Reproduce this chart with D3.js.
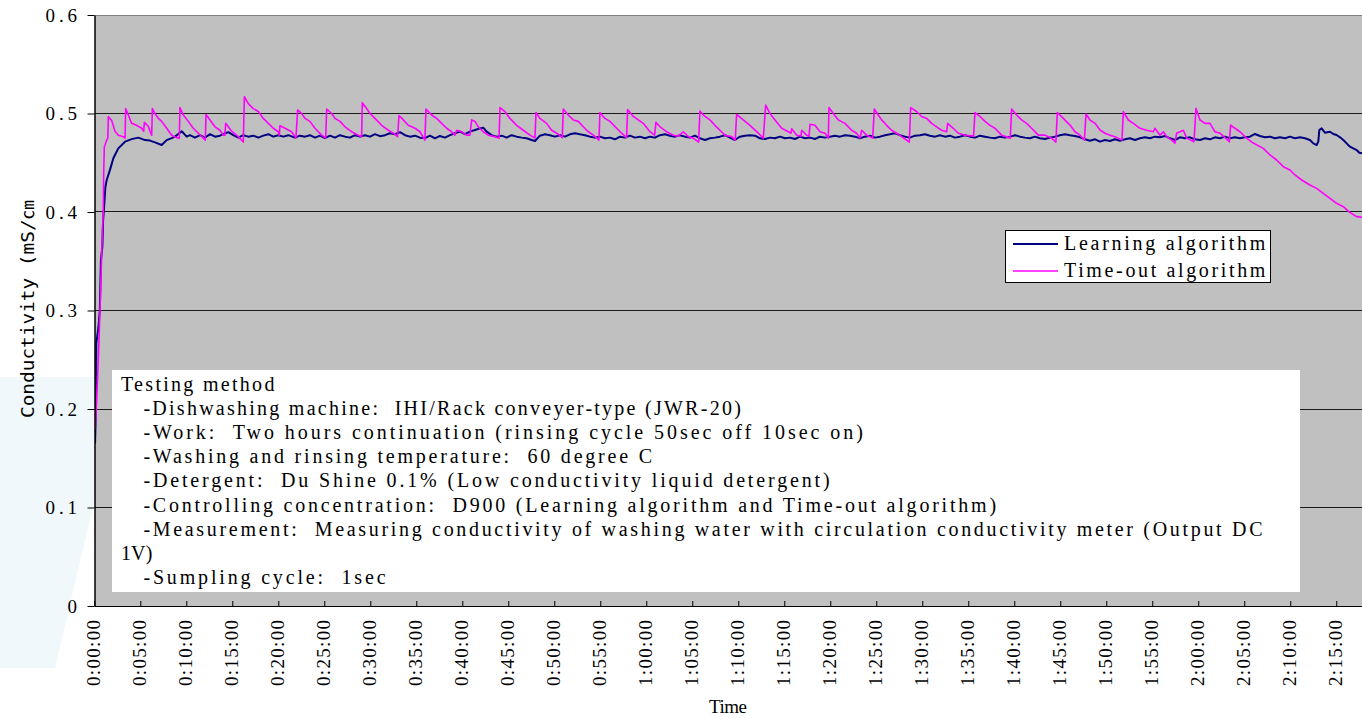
<!DOCTYPE html>
<html>
<head>
<meta charset="utf-8">
<script src="https://cdnjs.cloudflare.com/ajax/libs/d3/7.8.5/d3.min.js"></script>
<style>
  html, body { margin: 0; padding: 0; background: #fff; }
  svg { display: block; }
  .mono { font-family: "Liberation Serif", "Noto Sans CJK JP", serif; fill: #000; white-space: pre; }
</style>
</head>
<body>
<svg id="chart" width="1362" height="718"></svg>
<script>
//Axis values and labels
var yTicks = [0, 0.1, 0.2, 0.3, 0.4, 0.5, 0.6];
var yTickLabels = ["0", "0.1", "0.2", "0.3", "0.4", "0.5", "0.6"];
var xTickMinutes = [0, 5, 10, 15, 20, 25, 30, 35, 40, 45, 50, 55, 60, 65, 70, 75, 80, 85, 90, 95, 100, 105, 110, 115, 120, 125, 130, 135];
var xTickLabels = ["0:00:00", "0:05:00", "0:10:00", "0:15:00", "0:20:00", "0:25:00", "0:30:00", "0:35:00", "0:40:00",
  "0:45:00", "0:50:00", "0:55:00", "1:00:00", "1:05:00", "1:10:00", "1:15:00", "1:20:00", "1:25:00", "1:30:00",
  "1:35:00", "1:40:00", "1:45:00", "1:50:00", "1:55:00", "2:00:00", "2:05:00", "2:10:00", "2:15:00"];
var seriesNames = ["Learning algorithm", "Time-out algorithm"];
var yTitle = "Conductivity (mS/㎝";
var xTitle = "Time";

//Series: [minutes, mS/cm]
var learningAlgorithm = [
  [0.08, 0.165], [0.15, 0.19], [0.22, 0.267], [0.45, 0.283], [0.6, 0.3], [0.72, 0.351], [0.88, 0.365], [0.95, 0.39],
  [1.1, 0.41], [1.2, 0.425], [1.35, 0.4325], [1.71, 0.443], [2.07, 0.4545], [2.61, 0.4646], [3.34, 0.4714], [4.06, 0.474],
  [4.79, 0.4755], [5.51, 0.473], [6.05, 0.4725], [6.6, 0.4707], [7.32, 0.468], [7.87, 0.473], [8.41, 0.475], [8.77, 0.4765],
  [9.5, 0.482], [10.04, 0.4765], [10.4, 0.478], [10.94, 0.4755], [11.49, 0.478], [12.03, 0.4755], [12.58, 0.479],
  [13.12, 0.4765], [13.66, 0.4775], [14.21, 0.48], [14.57, 0.481], [15.11, 0.478], [15.65, 0.4755], [16.2, 0.478],
  [16.74, 0.4765], [17.28, 0.4775], [17.83, 0.4755], [18.37, 0.4775], [18.92, 0.479], [19.46, 0.4765], [20.0, 0.478],
  [20.55, 0.4765], [21.09, 0.478], [21.81, 0.4755], [22.36, 0.4775], [22.9, 0.4765], [23.44, 0.478], [23.99, 0.4755],
  [24.53, 0.4775], [25.07, 0.475], [25.62, 0.4775], [26.16, 0.4755], [26.7, 0.478], [27.25, 0.4765], [27.79, 0.4755],
  [28.34, 0.478], [28.88, 0.4765], [29.42, 0.478], [29.97, 0.4765], [30.51, 0.479], [31.05, 0.477], [31.6, 0.478],
  [32.14, 0.48], [32.68, 0.479], [33.23, 0.481], [33.77, 0.478], [34.31, 0.4765], [34.86, 0.4775], [35.4, 0.4755],
  [35.94, 0.475], [36.49, 0.4775], [37.03, 0.4748], [37.57, 0.4772], [38.12, 0.4755], [38.66, 0.478], [39.2, 0.48],
  [39.75, 0.4816], [40.29, 0.479], [40.83, 0.4816], [41.38, 0.4832], [41.92, 0.4849], [42.28, 0.4856], [42.65, 0.4816],
  [43.19, 0.478], [43.73, 0.4765], [44.28, 0.4775], [44.82, 0.4755], [45.36, 0.478], [45.91, 0.4765], [46.45, 0.4755],
  [46.99, 0.4748], [47.54, 0.4731], [47.9, 0.4721], [48.44, 0.4775], [48.99, 0.4789], [49.53, 0.478], [50.07, 0.4765],
  [50.62, 0.478], [51.16, 0.4765], [51.7, 0.4789], [52.25, 0.48], [52.79, 0.4789], [53.33, 0.478], [53.88, 0.4765],
  [54.42, 0.4755], [54.96, 0.4765], [55.51, 0.4748], [56.05, 0.4755], [56.6, 0.4738], [57.14, 0.4765], [57.68, 0.4755],
  [58.22, 0.4775], [58.77, 0.4755], [59.31, 0.4765], [59.86, 0.4748], [60.4, 0.4765], [60.94, 0.4755], [61.49, 0.478],
  [62.03, 0.4789], [62.57, 0.4775], [63.12, 0.4765], [63.66, 0.478], [64.2, 0.4765], [64.75, 0.4755], [65.29, 0.4775],
  [65.83, 0.4748], [66.38, 0.4731], [66.92, 0.4748], [67.46, 0.4755], [68.01, 0.4765], [68.55, 0.478], [69.09, 0.4755],
  [69.64, 0.4731], [70.18, 0.4765], [70.72, 0.4775], [71.27, 0.478], [71.82, 0.4775], [72.36, 0.4748], [72.9, 0.4741],
  [73.45, 0.4755], [73.99, 0.4748], [74.53, 0.4765], [75.08, 0.4748], [75.62, 0.4755], [76.16, 0.4741], [76.71, 0.4765],
  [77.25, 0.4748], [77.8, 0.4755], [78.34, 0.4741], [78.88, 0.4765], [79.43, 0.4755], [79.97, 0.4765], [80.51, 0.4775],
  [81.06, 0.4765], [81.6, 0.478], [82.14, 0.4775], [82.69, 0.4765], [83.23, 0.4748], [83.77, 0.4765], [84.32, 0.4775],
  [84.86, 0.4755], [85.4, 0.4765], [85.95, 0.478], [86.49, 0.4789], [87.03, 0.48], [87.58, 0.478], [88.12, 0.4765],
  [88.66, 0.4755], [89.21, 0.4775], [89.75, 0.478], [90.29, 0.4789], [90.84, 0.4775], [91.38, 0.4765], [91.92, 0.478],
  [92.47, 0.4765], [93.01, 0.4775], [93.56, 0.4755], [94.1, 0.4765], [94.64, 0.478], [95.19, 0.4765], [95.73, 0.4755],
  [96.27, 0.4775], [96.82, 0.4765], [97.36, 0.4755], [97.9, 0.4748], [98.45, 0.4765], [98.99, 0.4755], [99.53, 0.4765],
  [100.08, 0.478], [100.62, 0.4765], [101.16, 0.4755], [101.71, 0.4748], [102.25, 0.4765], [102.79, 0.4748],
  [103.34, 0.4741], [103.88, 0.4755], [104.42, 0.4765], [104.97, 0.478], [105.51, 0.4789], [106.05, 0.478],
  [106.6, 0.4772], [107.15, 0.4758], [107.69, 0.4738], [108.23, 0.4724], [108.78, 0.4738], [109.32, 0.4714],
  [109.86, 0.4731], [110.41, 0.4721], [110.95, 0.4738], [111.49, 0.4724], [112.04, 0.4738], [112.58, 0.4748],
  [113.12, 0.4731], [113.67, 0.4748], [114.21, 0.4758], [114.75, 0.4748], [115.3, 0.4765], [115.84, 0.4758],
  [116.38, 0.4772], [116.93, 0.4748], [117.47, 0.4731], [118.01, 0.4758], [118.56, 0.4748], [119.1, 0.4758],
  [119.64, 0.4738], [120.19, 0.4731], [120.73, 0.4748], [121.27, 0.4738], [121.82, 0.4758], [122.36, 0.4748],
  [122.91, 0.4765], [123.45, 0.4748], [123.99, 0.4758], [124.53, 0.4748], [125.08, 0.4758], [125.62, 0.4765],
  [126.17, 0.4792], [126.71, 0.4772], [127.25, 0.4758], [127.8, 0.4765], [128.34, 0.4748], [128.88, 0.4758],
  [129.43, 0.4748], [129.97, 0.4765], [130.51, 0.4748], [131.06, 0.4758], [131.6, 0.4748], [132.14, 0.4731],
  [132.51, 0.4697], [132.87, 0.468], [133.05, 0.4714], [133.16, 0.4832], [133.41, 0.4849], [133.77, 0.4805],
  [134.32, 0.4815], [134.68, 0.4792], [135.04, 0.4782], [135.41, 0.4758], [135.77, 0.4731], [136.13, 0.4697],
  [136.49, 0.4663], [136.85, 0.4646], [137.22, 0.4629], [137.51, 0.4602], [137.8, 0.4596]
];

var timeoutAlgorithm = [
  [0.08, 0.179], [0.18, 0.196], [0.26, 0.209], [0.43, 0.25], [0.62, 0.3], [0.76, 0.344], [0.87, 0.378], [0.98, 0.402],
  [1.02, 0.44], [1.09, 0.466], [1.35, 0.473], [1.47, 0.475], [1.525, 0.497], [1.89, 0.493], [2.25, 0.482], [2.61, 0.478],
  [3.16, 0.4765], [3.34, 0.475], [3.41, 0.505], [3.7, 0.4985], [4.06, 0.49], [4.6, 0.488], [5.15, 0.485], [5.37, 0.482],
  [5.44, 0.491], [5.87, 0.487], [6.05, 0.482], [6.24, 0.478], [6.31, 0.505], [6.6, 0.5], [6.96, 0.495], [7.32, 0.492],
  [7.87, 0.485], [8.41, 0.478], [8.95, 0.4755], [9.24, 0.475], [9.31, 0.506], [9.68, 0.4985], [10.22, 0.492],
  [10.76, 0.485], [11.31, 0.48], [11.85, 0.475], [12.07, 0.473], [12.14, 0.499], [12.58, 0.4935], [13.12, 0.4865],
  [13.66, 0.483], [14.02, 0.478], [14.2, 0.478], [14.28, 0.49], [14.93, 0.482], [15.65, 0.4765], [16.2, 0.471],
  [16.31, 0.517], [16.74, 0.51], [17.28, 0.505], [17.83, 0.502], [18.37, 0.495], [18.92, 0.49], [19.46, 0.485],
  [20.0, 0.4815], [20.11, 0.478], [20.18, 0.4875], [20.73, 0.485], [21.45, 0.4815], [21.92, 0.475], [22.1, 0.5036],
  [22.54, 0.5], [22.9, 0.495], [23.44, 0.492], [23.99, 0.485], [24.71, 0.478], [25.15, 0.475], [25.26, 0.5046],
  [25.8, 0.5], [26.16, 0.495], [26.71, 0.492], [27.25, 0.4865], [27.97, 0.4815], [28.7, 0.478], [29.06, 0.4765],
  [29.13, 0.511], [29.6, 0.505], [29.97, 0.5], [30.51, 0.495], [31.23, 0.488], [31.96, 0.483], [32.5, 0.48],
  [32.97, 0.4765], [33.12, 0.498], [33.59, 0.4935], [34.13, 0.488], [34.86, 0.485], [35.4, 0.4815], [35.94, 0.473],
  [36.05, 0.5046], [36.67, 0.4985], [37.21, 0.495], [37.76, 0.49], [38.3, 0.485], [38.84, 0.4815], [39.2, 0.478],
  [39.39, 0.483], [39.93, 0.4815], [40.47, 0.478], [40.83, 0.478], [41.02, 0.4935], [41.38, 0.492], [41.74, 0.4865],
  [42.28, 0.4815], [42.83, 0.478], [43.55, 0.4765], [43.99, 0.475], [44.1, 0.506], [44.64, 0.502], [45.18, 0.495],
  [45.91, 0.488], [46.63, 0.483], [47.36, 0.478], [47.9, 0.475], [48.01, 0.501], [48.44, 0.495], [49.17, 0.49],
  [49.71, 0.483], [50.26, 0.48], [50.87, 0.4755], [50.98, 0.5046], [51.52, 0.4985], [52.07, 0.4935], [52.61, 0.492],
  [53.15, 0.4865], [53.7, 0.4815], [54.24, 0.478], [54.86, 0.473], [54.96, 0.501], [55.51, 0.495], [56.05, 0.492],
  [56.78, 0.485], [57.32, 0.48], [57.86, 0.4755], [57.97, 0.504], [58.59, 0.497], [59.13, 0.4935], [59.67, 0.49],
  [60.4, 0.4815], [60.91, 0.478], [61.05, 0.491], [61.49, 0.4865], [62.21, 0.4815], [62.93, 0.478], [63.48, 0.477],
  [64.02, 0.4815], [64.57, 0.4765], [65.11, 0.475], [65.69, 0.471], [65.83, 0.5025], [66.38, 0.497], [66.92, 0.4935],
  [67.46, 0.488], [68.01, 0.483], [68.55, 0.478], [69.28, 0.4765], [69.67, 0.473], [69.82, 0.499], [70.54, 0.4935],
  [71.27, 0.488], [72.18, 0.48], [72.72, 0.475], [72.98, 0.5086], [73.45, 0.5], [73.99, 0.4935], [74.72, 0.485],
  [75.44, 0.4815], [75.73, 0.48], [75.8, 0.4845], [76.35, 0.478], [76.82, 0.477], [76.89, 0.483], [77.43, 0.478],
  [77.69, 0.477], [77.8, 0.489], [78.34, 0.488], [78.88, 0.4815], [79.43, 0.48], [79.79, 0.475], [79.86, 0.506],
  [80.33, 0.5], [80.87, 0.4935], [81.6, 0.49], [82.32, 0.483], [82.87, 0.48], [83.23, 0.475], [83.41, 0.483],
  [83.95, 0.478], [84.61, 0.475], [84.79, 0.5046], [85.22, 0.4985], [85.58, 0.4935], [86.13, 0.488], [86.67, 0.483],
  [87.21, 0.48], [87.76, 0.4765], [88.59, 0.471], [88.74, 0.506], [89.39, 0.502], [89.93, 0.497], [90.48, 0.495],
  [91.02, 0.49], [91.56, 0.4865], [92.11, 0.483], [92.65, 0.4815], [92.76, 0.49], [93.37, 0.485], [93.92, 0.48],
  [94.64, 0.478], [95.58, 0.477], [95.73, 0.501], [96.27, 0.497], [96.82, 0.492], [97.36, 0.488], [97.9, 0.485],
  [98.63, 0.478], [99.57, 0.475], [99.71, 0.5046], [100.26, 0.4985], [100.8, 0.4935], [101.34, 0.49], [101.89, 0.485],
  [102.61, 0.478], [103.34, 0.478], [104.06, 0.475], [104.53, 0.471], [104.68, 0.501], [105.33, 0.495], [105.87, 0.49],
  [106.06, 0.4883], [106.6, 0.4815], [107.15, 0.478], [107.62, 0.473], [107.8, 0.4995], [108.23, 0.4934], [108.78, 0.49],
  [109.32, 0.4832], [109.86, 0.48], [110.41, 0.478], [110.95, 0.4765], [111.71, 0.473], [111.86, 0.502], [112.4, 0.4934],
  [112.94, 0.49], [113.67, 0.485], [114.39, 0.483], [115.12, 0.4815], [115.3, 0.485], [115.84, 0.478], [116.2, 0.4815],
  [116.57, 0.4765], [117.11, 0.473], [117.47, 0.47], [117.65, 0.48], [118.38, 0.483], [118.74, 0.475], [119.54, 0.4714],
  [119.75, 0.5053], [120.19, 0.4934], [120.73, 0.49], [121.27, 0.49], [121.82, 0.4815], [122.36, 0.48], [123.38, 0.4714],
  [123.52, 0.4883], [123.99, 0.485], [124.53, 0.4815], [125.26, 0.475], [125.98, 0.47], [127.07, 0.4646], [127.8, 0.4579],
  [128.52, 0.4528], [129.25, 0.446], [129.97, 0.4426], [130.51, 0.4376], [131.24, 0.4325], [132.14, 0.4274],
  [132.87, 0.424], [133.59, 0.4189], [134.32, 0.4139], [135.04, 0.4088], [135.77, 0.4054], [136.49, 0.3994],
  [137.22, 0.3953], [137.8, 0.3946]
];

//Text box lines (leading spaces are indentation)
var noteLines = [
  "Testing method",
  "  -Dishwashing machine:  IHI/Rack conveyer-type (JWR-20)",
  "  -Work:  Two hours continuation (rinsing cycle 50sec off 10sec on)",
  "  -Washing and rinsing temperature:  60 degree C",
  "  -Detergent:  Du Shine 0.1% (Low conductivity liquid detergent)",
  "  -Controlling concentration:  D900 (Learning algorithm and Time-out algorithm)",
  "  -Measurement:  Measuring conductivity of washing water with circulation conductivity meter (Output DC",
  "1V)",
  "  -Sumpling cycle:  1sec"
];

var svg = d3.select("#chart");
var plotLeft = 95, plotTop = 15, plotRight = 1362, plotBottom = 606;
var serifFont = "'Liberation Serif', 'Noto Sans CJK JP', serif";

var x = d3.scaleLinear().domain([0, 137.8]).range([94.3, 1362]);
var y = d3.scaleLinear().domain([0, 0.6]).range([606, 15]);

//count monospace columns, wide chars take two
function cols(s) {
  var n = 0;
  for (var ch of s) n += ch.charCodeAt(0) > 0x2e80 ? 2 : 1;
  return n;
}

//light blue shape behind the left side
svg.append("path")
  .attr("d", "M0,377 L95,377 L95,498 L55,668 L0,668 Z")
  .attr("fill", "#f0f8fc");

//plot area
svg.append("rect")
  .attr("x", plotLeft).attr("y", plotTop)
  .attr("width", plotRight - plotLeft).attr("height", plotBottom - plotTop)
  .attr("fill", "#c0c0c0");

//gridlines
svg.append("g").selectAll("line")
  .data(yTicks.filter(function (d) { return d > 0; }))
  .join("line")
  .attr("x1", plotLeft).attr("x2", plotRight)
  .attr("y1", function (d) { return Math.floor(y(d)) + 0.5; })
  .attr("y2", function (d) { return Math.floor(y(d)) + 0.5; })
  .attr("stroke", function (d) { return d === 0.6 ? "#808080" : "#1a1a1a"; })
  .attr("stroke-width", 1);

//series lines
svg.append("clipPath").attr("id", "plotClip")
  .append("rect")
  .attr("x", plotLeft).attr("y", plotTop)
  .attr("width", plotRight - plotLeft).attr("height", plotBottom - plotTop);

var line = d3.line()
  .x(function (d) { return x(d[0]); })
  .y(function (d) { return y(d[1]); });

var lines = svg.append("g").attr("clip-path", "url(#plotClip)");
lines.append("path")
  .datum(learningAlgorithm)
  .attr("fill", "none")
  .attr("stroke", "#000080")
  .attr("stroke-width", 2)
  .attr("stroke-linejoin", "round")
  .attr("d", line);
lines.append("path")
  .datum(timeoutAlgorithm)
  .attr("fill", "none")
  .attr("stroke", "#ff00ff")
  .attr("stroke-width", 1.6)
  .attr("stroke-linejoin", "round")
  .attr("d", line);

//y axis
var yAxis = svg.append("g")
  .attr("transform", "translate(94.5,0)")
  .call(d3.axisLeft(y).tickValues(yTicks).tickSize(7).tickSizeOuter(0)
    .tickFormat(function (d, i) { return yTickLabels[i]; }));
yAxis.attr("font-family", null);
yAxis.select(".domain").attr("stroke", "#000").attr("stroke-width", 1.5);
yAxis.selectAll(".tick line").attr("stroke", "#000");
yAxis.selectAll(".tick text")
  .attr("x", -17.5)
  .attr("dy", "0.34em")
  .attr("fill", "#000")
  .style("font-family", serifFont)
  .style("font-size", "19px")
  .attr("textLength", function (d, i) { return cols(yTickLabels[i]) * 10.8 - 1; })
  .attr("lengthAdjust", "spacing");

//x axis
var xAxis = svg.append("g")
  .attr("transform", "translate(0," + plotBottom + ")")
  .call(d3.axisBottom(x).tickValues(xTickMinutes).tickSize(-5).tickSizeOuter(0)
    .tickFormat(function (d, i) { return xTickLabels[i]; }));
xAxis.attr("font-family", null);
xAxis.select(".domain").attr("stroke", "#000").attr("stroke-width", 1.2);
xAxis.selectAll(".tick line").attr("stroke", "#000");
xAxis.selectAll(".tick text")
  .attr("transform", "rotate(-90)")
  .attr("text-anchor", "end")
  .attr("x", -14)
  .attr("y", 5.5)
  .attr("dy", 0)
  .attr("fill", "#000")
  .style("font-family", serifFont)
  .style("font-size", "19px")
  .attr("textLength", 66)
  .attr("lengthAdjust", "spacing");

//axis titles
svg.append("text")
  .attr("transform", "translate(34,309) rotate(-90)")
  .attr("text-anchor", "middle")
  .style("font-family", "'DejaVu Sans Mono', 'Noto Sans CJK JP', monospace")
  .style("font-size", "17px")
  .attr("textLength", 218)
  .attr("lengthAdjust", "spacingAndGlyphs")
  .text(yTitle);

svg.append("text")
  .attr("class", "mono")
  .attr("x", 728).attr("y", 713)
  .attr("text-anchor", "middle")
  .style("font-size", "19px")
  .attr("textLength", 38)
  .attr("lengthAdjust", "spacing")
  .text(xTitle);

//legend
var legend = svg.append("g");
legend.append("rect")
  .attr("x", 1005.5).attr("y", 230.5)
  .attr("width", 265).attr("height", 52)
  .attr("fill", "#fff").attr("stroke", "#000").attr("stroke-width", 1);
var legendColors = ["#000080", "#ff00ff"];
seriesNames.forEach(function (name, i) {
  var ly = 244 + i * 27;
  legend.append("line")
    .attr("x1", 1013).attr("x2", 1058)
    .attr("y1", ly).attr("y2", ly)
    .attr("stroke", legendColors[i]).attr("stroke-width", i === 0 ? 2 : 1.6);
  legend.append("text")
    .attr("class", "mono")
    .attr("x", 1064).attr("y", ly + 6)
    .style("font-size", "20px")
    .attr("textLength", cols(name) * 11.3 - 2)
    .attr("lengthAdjust", "spacing")
    .text(name);
});

//testing method text box
var note = svg.append("g");
note.append("rect")
  .attr("x", 112).attr("y", 370)
  .attr("width", 1188).attr("height", 222)
  .attr("fill", "#fff");
noteLines.forEach(function (s, i) {
  var lead = s.length - s.replace(/^ +/, "").length;
  var t = s.trim();
  note.append("text")
    .attr("class", "mono")
    .attr("x", 121 + lead * 11.2)
    .attr("y", 391 + i * 24.1)
    .style("font-size", "20px")
    .attr("textLength", cols(t) * 11.1 - 2)
    .attr("lengthAdjust", "spacing")
    .text(t);
});
</script>
</body>
</html>
